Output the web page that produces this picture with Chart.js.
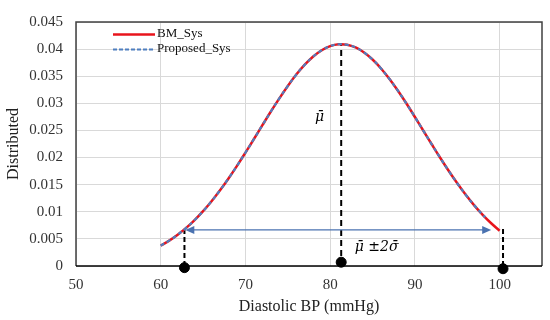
<!DOCTYPE html>
<html>
<head>
<meta charset="utf-8">
<script src="https://cdn.jsdelivr.net/npm/chart.js@4"></script>
<style>
  html, body { margin: 0; padding: 0; background: #fff; }
  #wrap { width: 550px; height: 320px; position: relative; }
</style>
</head>
<body>
<div id="wrap"><canvas id="chart"></canvas></div>
<script>
// Diastolic BP values (mmHg) and distribution
const bpValues = [60,61,62,63,64,65,66,67,68,69,70,71,72,73,74,75,76,77,78,79,80,
  81,82,83,84,85,86,87,88,89,90,91,92,93,94,95,96,97,98,99,100];
const bmSys = [0.00376,0.00468,0.00577,0.00703,0.00848,0.01012,0.01195,0.01396,0.01614,
  0.01847,0.02091,0.02342,0.02597,0.02849,0.03092,0.03321,0.03530,0.03713,0.03864,0.03980,
  0.04056,0.04090,0.04081,0.04030,0.03938,0.03808,0.03643,0.03449,0.03231,0.02996,0.02748,
  0.02494,0.02241,0.01992,0.01752,0.01525,0.01313,0.01119,0.00944,0.00788,0.00651];
// proposed curve overlays the BM one, ending a little earlier (~98)
const proposedX = bpValues.slice(0, 39).concat([98.3]);
const proposedSys = bmSys.slice(0, 39).concat([0.00900]);

// annotation values
const meanX = 81.3;
const meanPeak = 0.0409;
const lowX = 62.8;
const highX = 100.4;
const lowTop = 0.0068;
const highTop = 0.0070;
const arrowY = 0.00665;
const arrowEnds = [62.9, 99.0];
const dotX = [62.8, 81.3, 100.4];
const dotY = [-0.0003, 0.0007, -0.0005];
const xTicks = [50, 60, 70, 80, 90, 100];

const serif = '"Liberation Serif", "DejaVu Serif", serif';

const toXY = (xs, ys) => xs.map((x, i) => ({ x, y: ys[i] }));

// Custom drawings: arrow, labels, legend
const overlay = {
  id: 'overlay',
  afterDatasetsDraw(chart) {
    const { ctx, scales: { x, y }, chartArea } = chart;
    ctx.save();

    // double-headed arrow
    const ax1 = x.getPixelForValue(arrowEnds[0]);
    const ax2 = x.getPixelForValue(arrowEnds[1]);
    const ay = y.getPixelForValue(arrowY);
    ctx.strokeStyle = '#4a72b0';
    ctx.fillStyle = '#4a72b0';
    ctx.lineWidth = 1.3;
    ctx.beginPath();
    ctx.moveTo(ax1 + 6, ay);
    ctx.lineTo(ax2 - 6, ay);
    ctx.stroke();
    ctx.beginPath();
    ctx.moveTo(ax1, ay); ctx.lineTo(ax1 + 9, ay - 4); ctx.lineTo(ax1 + 9, ay + 4); ctx.closePath();
    ctx.fill();
    ctx.beginPath();
    ctx.moveTo(ax2, ay); ctx.lineTo(ax2 - 9, ay - 4); ctx.lineTo(ax2 - 9, ay + 4); ctx.closePath();
    ctx.fill();

    // text labels
    ctx.fillStyle = '#000';
    ctx.font = 'italic 14px "DejaVu Serif", serif';
    ctx.textBaseline = 'middle';
    ctx.textAlign = 'left';
    ctx.fillText('\u03bc\u0304', x.getPixelForValue(78.2), y.getPixelForValue(0.0275));
    ctx.fillText('\u03bc\u0304 \u00b12\u03c3\u0304', x.getPixelForValue(82.9), y.getPixelForValue(0.0034));

    // legend
    const lx = chartArea.left + 37;
    ctx.lineWidth = 2.5;
    ctx.strokeStyle = '#e8141c';
    ctx.beginPath(); ctx.moveTo(lx, 34.5); ctx.lineTo(lx + 42, 34.5); ctx.stroke();
    ctx.strokeStyle = '#4f7fc0';
    ctx.lineWidth = 2;
    ctx.setLineDash([4, 2]);
    ctx.beginPath(); ctx.moveTo(lx, 49.5); ctx.lineTo(lx + 42, 49.5); ctx.stroke();
    ctx.setLineDash([]);
    ctx.fillStyle = '#111';
    ctx.font = '13px ' + serif;
    ctx.fillText('BM_Sys', lx + 44, 34);
    ctx.fillText('Proposed_Sys', lx + 44, 49);

    // plot frame
    ctx.strokeStyle = '#404040';
    ctx.lineWidth = 1.5;
    ctx.beginPath();
    ctx.moveTo(chartArea.left, chartArea.bottom);
    ctx.lineTo(chartArea.left, chartArea.top);
    ctx.lineTo(chartArea.right, chartArea.top);
    ctx.lineTo(chartArea.right, chartArea.bottom);
    ctx.stroke();
    ctx.strokeStyle = '#000';
    ctx.beginPath();
    ctx.moveTo(chartArea.left, chartArea.bottom);
    ctx.lineTo(chartArea.right, chartArea.bottom);
    ctx.stroke();
    ctx.restore();
  }
};

new Chart(document.getElementById('chart'), {
  type: 'line',
  data: {
    datasets: [
      {
        label: 'Proposed_Sys',
        data: toXY(proposedX, proposedSys),
        borderColor: '#4f7fc0',
        borderWidth: 2.2,
        borderDash: [4, 3],
        pointRadius: 0,
        tension: 0.4,
        order: 1
      },
      {
        label: 'BM_Sys',
        data: toXY(bpValues, bmSys),
        borderColor: '#e8141c',
        borderWidth: 2.5,
        pointRadius: 0,
        tension: 0.4,
        order: 2
      },
      {
        label: 'mean',
        data: toXY([meanX, meanX], [0, meanPeak]),
        borderColor: '#000',
        borderWidth: 2,
        borderDash: [6, 4],
        pointRadius: 0,
        order: 3
      },
      {
        label: 'low',
        data: toXY([lowX, lowX], [0, lowTop]),
        borderColor: '#000',
        borderWidth: 2,
        borderDash: [5, 3],
        pointRadius: 0,
        order: 3
      },
      {
        label: 'high',
        data: toXY([highX, highX], [0, highTop]),
        borderColor: '#000',
        borderWidth: 2,
        borderDash: [5, 3],
        pointRadius: 0,
        order: 3
      },
      {
        label: 'dots',
        type: 'scatter',
        data: toXY(dotX, dotY),
        backgroundColor: '#000',
        borderColor: '#000',
        pointRadius: 5,
        clip: false,
        order: 0
      }
    ]
  },
  options: {
    responsive: true,
    maintainAspectRatio: false,
    animation: false,
    layout: { padding: { left: 0, top: 13, right: 8, bottom: 0 } },
    plugins: {
      legend: { display: false },
      tooltip: { enabled: false }
    },
    scales: {
      x: {
        type: 'linear',
        min: 50,
        max: 105,
        afterBuildTicks: (axis) => { axis.ticks = xTicks.map(v => ({ value: v })); },
        afterFit: (axis) => { axis.height = 54; },
        grid: { color: '#d9d9d9', drawTicks: false },
        border: { display: false },
        ticks: { color: '#333', font: { family: serif, size: 15 }, padding: 10, maxRotation: 0 },
        title: { display: true, text: 'Diastolic BP (mmHg)', color: '#222', font: { family: serif, size: 16 }, padding: { top: 1 } }
      },
      y: {
        min: 0,
        max: 0.045,
        afterFit: (axis) => { axis.width = 76; },
        grid: { color: '#d9d9d9', drawTicks: false },
        border: { display: false },
        ticks: {
          stepSize: 0.005,
          color: '#333',
          padding: 13,
          font: { family: serif, size: 15 },
          callback: (v) => String(+v.toFixed(3))
        },
        title: { display: true, text: 'Distributed', color: '#222', font: { family: serif, size: 16 }, padding: { top: 4, bottom: 0 } }
      }
    }
  },
  plugins: [overlay]
});
</script>
</body>
</html>
